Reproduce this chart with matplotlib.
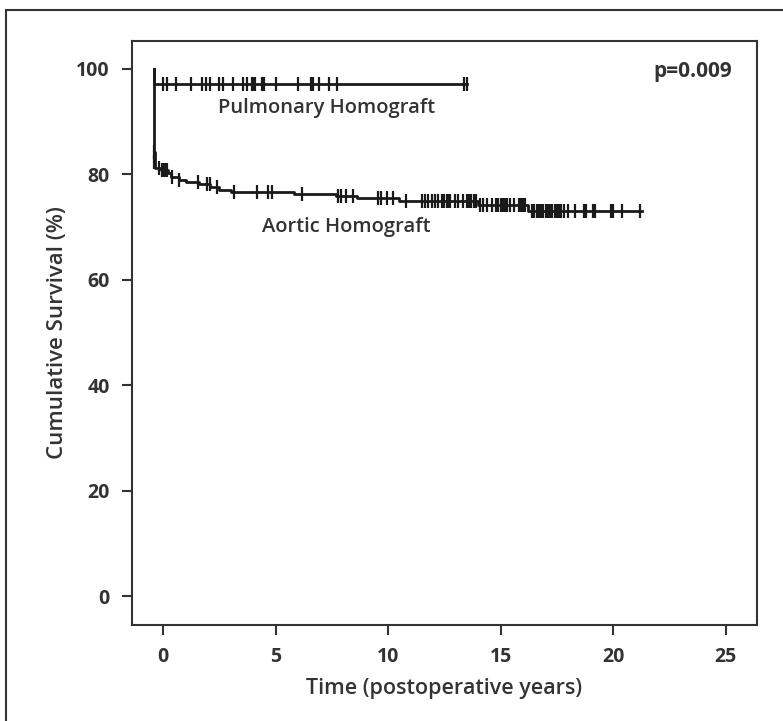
import matplotlib
matplotlib.use("Agg")
import matplotlib.pyplot as plt
from matplotlib.patches import Rectangle

plt.rcParams['font.family'] = ['Open Sans', 'DejaVu Sans']

# Kaplan-Meier steps (time in years, survival in %)
pulm_times = [-0.4, -0.4, 13.5]
pulm_surv = [100.0, 97.1, 97.1]
pulm_censor = [0.0, 0.18, 0.58, 1.24, 1.73, 1.91, 2.09, 2.49, 2.67, 3.11,
               3.56, 3.73, 3.96, 4.04, 4.09, 4.4, 4.49, 5.02, 6.0, 6.58,
               6.67, 6.93, 7.38, 7.73, 13.38, 13.51]

aort_times = [-0.4, -0.4, -0.38, -0.35, -0.1, 0.2, 0.35, 0.7, 1.0, 1.6,
              2.1, 2.5, 3.0, 5.8, 7.7, 8.6, 10.5, 14.0, 16.2, 21.3]
aort_surv = [100.0, 84.3, 82.4, 81.2, 80.8, 80.2, 79.5, 79.0, 78.6, 78.2,
             77.6, 77.0, 76.7, 76.3, 75.9, 75.5, 74.9, 74.2, 73.0, 73.0]
aort_censor = [-0.4, -0.4, -0.16, -0.06, 0.02, 0.09, 0.16, 0.38, 0.73, 1.57,
               1.97, 2.09, 2.41, 3.16, 4.16, 4.68, 4.83, 6.16, 7.79, 7.9,
               8.13, 8.46, 9.57, 9.67, 9.94, 10.24, 10.8, 11.5, 11.64, 11.79,
               11.94, 12.09, 12.24, 12.39, 12.5, 12.6, 12.68, 12.76, 12.98, 13.12,
               13.35, 13.5, 13.6, 13.7, 13.8, 13.9, 14.1, 14.2, 14.4, 14.6,
               14.8, 14.9, 15.0, 15.1, 15.2, 15.3, 15.4, 15.6, 15.8, 15.9,
               16.0, 16.1, 16.4, 16.5, 16.6, 16.7, 16.8, 16.9, 17.0, 17.1,
               17.2, 17.3, 17.4, 17.5, 17.6, 17.7, 17.8, 18.0, 18.3, 18.7,
               18.8, 19.1, 19.2, 19.9, 20.0, 20.4, 21.2]
# the two ticks on the initial drop
aort_censor_y = {0: 84.3, 1: 82.4}

xticks = [0, 5, 10, 15, 20, 25]
yticks = [0, 20, 40, 60, 80, 100]


def surv_at(times, surv, t):
    val = surv[0]
    for ti, si in zip(times, surv):
        if ti <= t:
            val = si
    return val


fig = plt.figure(figsize=(7.83, 7.21), dpi=100)
ax = fig.add_axes([0.1686, 0.1331, 0.7982, 0.81])

col = '#1a1a1a'
ax.step(pulm_times, pulm_surv, where='post', color=col, lw=2.0)
ax.step(aort_times, aort_surv, where='post', color=col, lw=2.0)

py = [surv_at(pulm_times, pulm_surv, t) for t in pulm_censor]
ax.plot(pulm_censor, py, ls='none', marker='|', ms=9.5, mew=1.6, color=col)

ay = []
for i, t in enumerate(aort_censor):
    if i in aort_censor_y:
        ay.append(aort_censor_y[i])
    else:
        ay.append(surv_at(aort_times, aort_surv, t))
ax.plot(aort_censor, ay, ls='none', marker='|', ms=9.5, mew=1.6, color=col)

ax.text(7.26, 92.6, 'Pulmonary Homograft', ha='center', va='center',
        fontsize=14.5, color='#333333', fontweight='semibold')
ax.text(8.13, 70.0, 'Aortic Homograft', ha='center', va='center',
        fontsize=14.5, color='#333333', fontweight='semibold')
ax.text(25.3, 99.6, 'p=0.009', ha='right', va='center',
        fontsize=15, color='#333333', fontweight='bold')

ax.set_xlim(-1.38, 26.4)
ax.set_ylim(-5.5, 105.3)
ax.set_xticks(xticks)
ax.set_yticks(yticks)
ax.tick_params(axis='both', direction='out', length=7, width=1.5,
               colors='#333333', labelsize=14, pad=9)
for lab in ax.get_xticklabels() + ax.get_yticklabels():
    lab.set_fontweight('bold')
for sp in ax.spines.values():
    sp.set_linewidth(1.5)
    sp.set_color('#333333')

ax.set_xlabel('Time (postoperative years)', fontsize=15.5, color='#333333',
              fontweight='semibold', labelpad=8)
ax.set_ylabel('Cumulative Survival (%)', fontsize=16, color='#333333',
              fontweight='semibold', labelpad=6)

# outer frame
fig.patches.append(Rectangle((6 / 783, -0.1), 1.2, 1 - 10 / 721 + 0.1,
                             transform=fig.transFigure, fill=False,
                             edgecolor='#333333', lw=1.5))

plt.savefig('out.png', dpi=100)
plt.close()
